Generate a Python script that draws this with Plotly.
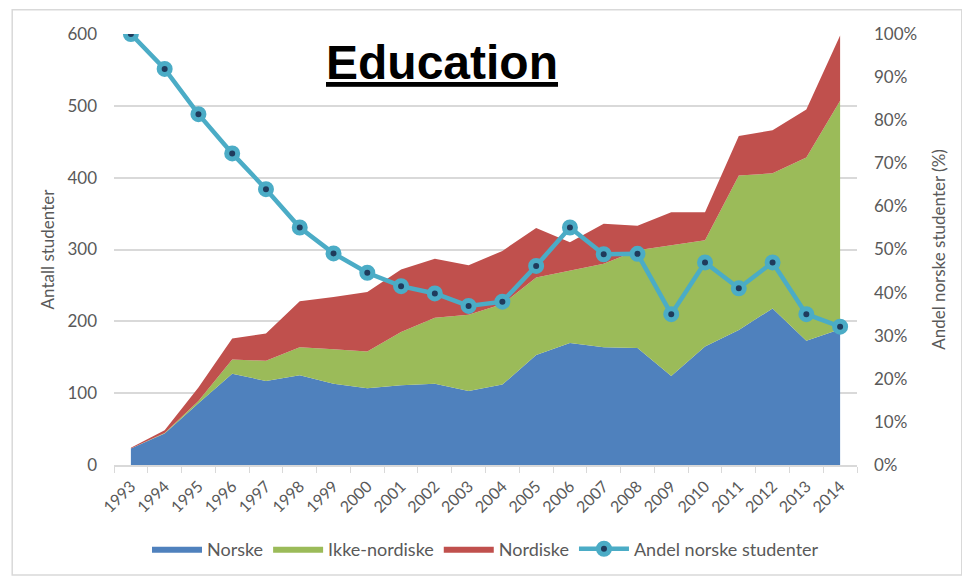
import plotly.graph_objects as go

# Data
years = [str(y) for y in range(1993, 2015)]

norske = [23, 44, 86, 127, 117, 125, 113, 107, 111, 113, 103,
          112, 153, 170, 164, 163, 124, 165, 188, 218, 173, 189]
ikke_nordiske = [0, 0.5, 3, 20, 28, 39, 48, 51, 74, 92, 106,
                 112, 108, 101, 116, 136, 182, 148, 215, 188, 255, 318]
nordiske = [1, 4, 19, 29, 38, 64, 73, 83, 87, 82, 69,
            74, 69, 39, 56, 34, 46, 39, 55, 60, 67, 91]
andel = [100, 91.9, 81.4, 72.3, 64.0, 55.1, 49.1, 44.6, 41.5, 39.8, 36.9,
         37.9, 46.2, 55.1, 48.9, 49.0, 35.0, 47.0, 41.0, 47.0, 35.0, 32.1]

FONT = "Lato, Noto Sans, sans-serif"
GREY = "#595959"
GRID = "#D9D9D9"

fig = go.Figure()


def add_area(values, name, color):
    fig.add_trace(go.Scatter(
        x=years, y=values,
        mode='lines',
        stackgroup='one',
        name=name,
        line=dict(width=0, color=color),
        fillcolor=color,
    ))


add_area(norske, "Norske", "#4F81BD")
add_area(ikke_nordiske, "Ikke-nordiske", "#9BBB59")
add_area(nordiske, "Nordiske", "#C0504D")

fig.add_trace(go.Scatter(
    x=years, y=andel,
    mode='lines+markers',
    name="Andel norske studenter",
    yaxis='y2',
    line=dict(color="#4BACC6", width=4.5),
    marker=dict(symbol='circle', size=11, color="#1F3B5C",
                line=dict(color="#4BACC6", width=5)),
))

# the page body adds an 8px margin, so margins are shifted to compensate
fig.update_layout(
    width=970, height=578,
    margin=dict(l=106, r=121, t=26, b=121),
    paper_bgcolor='white',
    plot_bgcolor='white',
    font=dict(family=FONT, size=17, color=GREY),
    showlegend=True,
    legend=dict(orientation='h', x=0.5, xanchor='center', y=-0.195, yanchor='middle',
                traceorder='normal', font=dict(size=18, color=GREY),
                itemwidth=50),
    xaxis=dict(
        type='category',
        range=[-0.5, 21.5],
        tickson='boundaries',
        ticks='outside', ticklen=6, tickcolor=GRID,
        showline=True, linecolor=GRID, linewidth=1.5,
        showgrid=False,
        tickangle=-45,
        ticklabelstandoff=4,
        tickfont=dict(size=16, color=GREY),
    ),
    yaxis=dict(
        range=[0, 600], dtick=100,
        showgrid=True, gridcolor=GRID, gridwidth=1.5,
        zeroline=False, showline=False,
        ticks='', ticklabelstandoff=16,
        tickfont=dict(size=17, color=GREY),
        title=dict(text="Antall studenter", font=dict(size=17, color=GREY), standoff=8),
    ),
    yaxis2=dict(
        overlaying='y', side='right',
        range=[0, 100], dtick=10, ticksuffix='%',
        showgrid=False, zeroline=False, showline=False,
        ticks='', ticklabelstandoff=16,
        tickfont=dict(size=17, color=GREY),
        title=dict(text="Andel norske studenter (%)", font=dict(size=17, color=GREY), standoff=16),
    ),
    annotations=[dict(
        text="<b><u>Education</u></b>",
        xref='paper', yref='paper', x=0.441, y=0.935,
        xanchor='center', yanchor='middle', showarrow=False,
        font=dict(family="Liberation Sans, Arial, sans-serif", size=48, color='black'),
    )],
    shapes=[dict(
        type='rect', xref='paper', yref='paper',
        x0=-0.137, x1=1.141, y0=-0.255, y1=1.056,
        line=dict(color=GRID, width=1.5), layer='below',
    )],
)

fig.write_html("out.html")
